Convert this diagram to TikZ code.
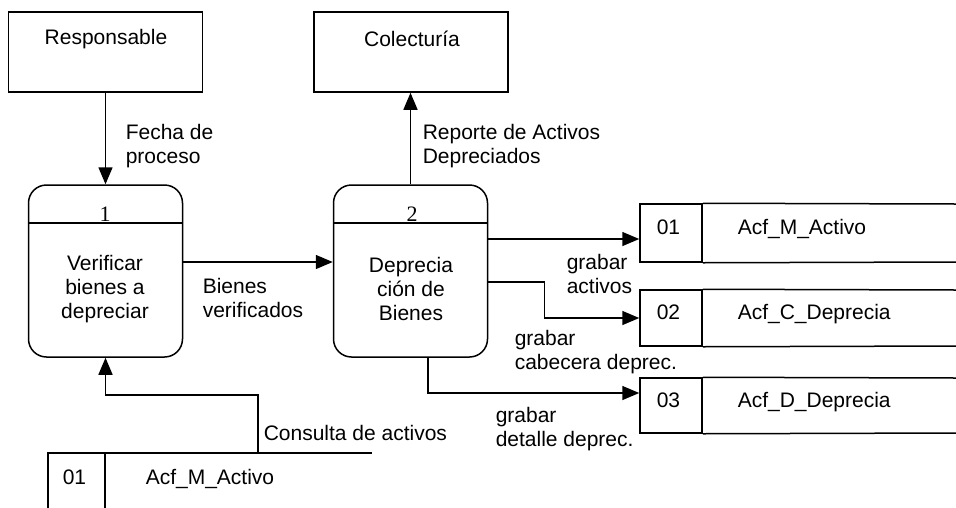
\documentclass[tikz,border=0pt]{standalone}
\usepackage{fontspec}
\setmainfont{Liberation Sans}
\newfontfamily\numfont{Liberation Serif}
\usetikzlibrary{arrows.meta}
\begin{document}
\begin{tikzpicture}[x=1pt,y=-1pt,
  line width=1.5pt,
  every node/.style={font=\fontsize{21}{24}\selectfont, inner sep=0pt},
  lbl/.style={anchor=west, align=left},
  one/.style={anchor=base west},
  ent/.style={draw, minimum width=194pt, minimum height=80pt},
  proc/.style={draw, rounded corners=18pt, minimum width=154pt, minimum height=172pt},
  cell/.style={draw, minimum width=62pt},
  flow/.style={-{Triangle[length=17pt,width=14pt]}},
  pnum/.style={font=\numfont\fontsize{22}{24}\selectfont}
]
\useasboundingbox (0,0) rectangle (956,507);

% external entities
\node[ent] (resp) at (105.5,52) {};
\node at (106,39) {Responsable};
\node[ent] (col) at (411,52) {};
\node at (412,39) {Colecturía};

% processes
\node[proc] (p1) at (105.5,271) {};
\draw (p1.west |- 0,223) -- (p1.east |- 0,223);
\node[pnum] at (105,214) {1};
\node[align=center] (p1t) at (105,289) {Verificar\\bienes a\\depreciar};

\node[proc] (p2) at (410.5,271) {};
\draw (p2.west |- 0,223) -- (p2.east |- 0,223);
\node[pnum] at (412,214) {2};
\node[align=center] (p2t) at (411,289) {Deprecia\\ción de\\Bienes};

% data stores (right)
\node[cell, minimum height=58pt] (s1) at (671,233) {};
\draw (s1.north east) -- (956,204) (s1.south east) -- (956,262);
\node[one] at (656,234.5) {01};
\node[one] at (737,234.5) {Acf\_M\_Activo};

\node[cell, minimum height=56pt] (s2) at (671,318) {};
\draw (s2.north east) -- (956,290) (s2.south east) -- (956,346);
\node[one] at (656,319.5) {02};
\node[one] at (737,319.5) {Acf\_C\_Deprecia};

\node[cell, minimum height=55pt] (s3) at (671,405.5) {};
\draw (s3.north east) -- (956,378) (s3.south east) -- (956,433);
\node[one] at (656,407.5) {03};
\node[one] at (737,407.5) {Acf\_D\_Deprecia};

% data store (bottom)
\coordinate (s4nw) at (48,453);
\coordinate (s4top) at (258,453);
\draw (48,510) -- (s4nw) -- (372,453);
\draw (105,453) -- (105,510);
\node[one] at (62,484) {01};
\node[one] at (145,484) {Acf\_M\_Activo};

% flows
\draw[flow] (resp.south) -- (p1.north);
\node[lbl] at (125,146) {Fecha de\\proceso};

\draw[flow] (p2.north) -- (p2.north |- col.south);
\node[lbl] at (422,146) {Reporte de Activos\\Depreciados};

\draw[flow] ([yshift=9pt]p1.east) -- ([yshift=9pt]p2.west);
\node[lbl] at (202,298) {Bienes\\verificados};

\draw[flow] ([yshift=32pt]p2.east) -- ([yshift=-6pt]s1.west);
\node[lbl] at (566,274) {grabar\\activos};

\draw[flow] ([yshift=-11pt]p2.east) -- ++(56,0) |- (s2.west);
\node[lbl] at (514,352) {grabar\\cabecera deprec.};

\draw[flow] ([xshift=17.5pt]p2.south) |- ([yshift=12.5pt]s3.west);
\node[lbl] at (495,429) {grabar\\detalle deprec.};

\draw[flow] (s4top) -- (258,395) -| (p1.south);
\node[one] at (263,440.5) {Consulta de activos};
\end{tikzpicture}
\end{document}
